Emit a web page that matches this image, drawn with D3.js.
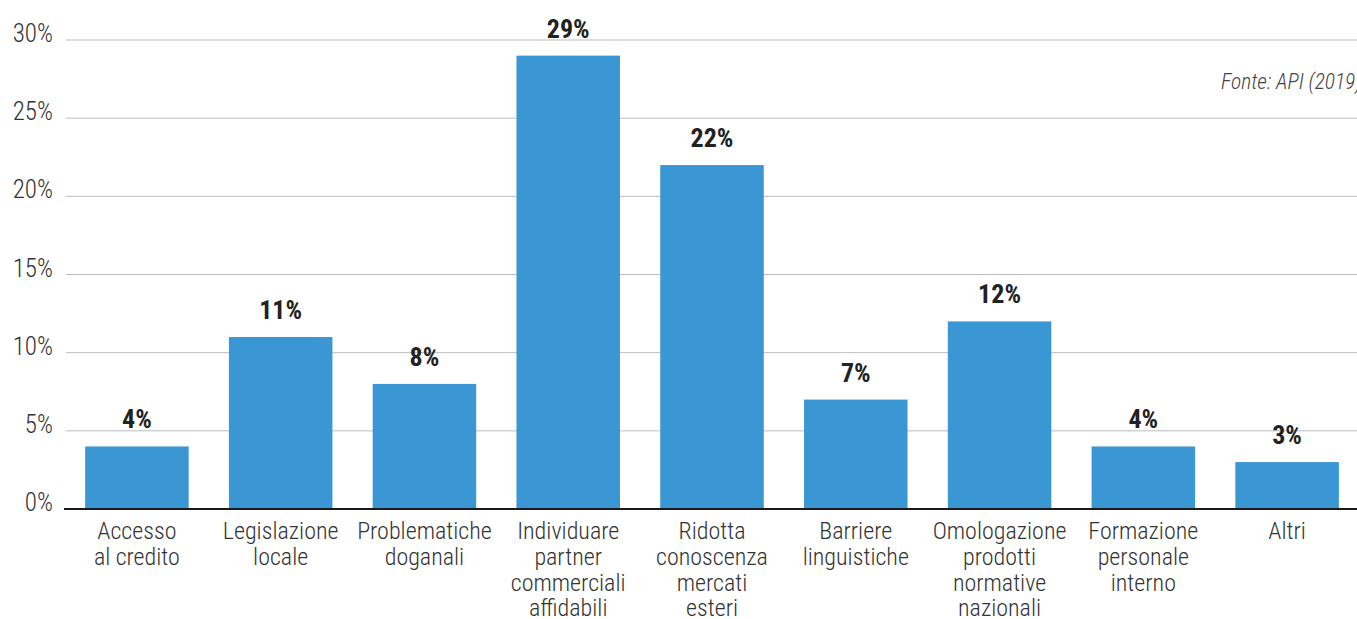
<!DOCTYPE html>
<html><head><meta charset="utf-8">
<script src="https://cdn.jsdelivr.net/npm/d3@7"></script>
<style>
html,body{margin:0;padding:0;background:#fff;}
svg{display:block;font-family:"Roboto Condensed",Roboto,"Noto Sans",sans-serif;}
</style></head>
<body>
<svg id="chart" width="1357" height="619"></svg>
<script>
const categories = [
  ["Accesso","al credito"],
  ["Legislazione","locale"],
  ["Problematiche","doganali"],
  ["Individuare","partner","commerciali","affidabili"],
  ["Ridotta","conoscenza","mercati","esteri"],
  ["Barriere","linguistiche"],
  ["Omologazione","prodotti","normative","nazionali"],
  ["Formazione","personale","interno"],
  ["Altri"]
];
const values = [4, 11, 8, 29, 22, 7, 12, 4, 3];
const yTicks = [0, 5, 10, 15, 20, 25, 30];
const sourceText = "Fonte: API (2019)";

const svg = d3.select("#chart");
const keys = categories.map((c, i) => i);
const x = d3.scaleBand().domain(keys).range([65, 1359]).paddingInner(0.28).paddingOuter(0.14);
const y = d3.scaleLinear().domain([0, 30]).range([509, 40]);

// gridlines
svg.append("g").selectAll("line").data(yTicks.filter(t => t > 0)).join("line")
  .attr("x1", 66).attr("x2", 1357)
  .attr("y1", d => y(d)).attr("y2", d => y(d))
  .attr("stroke", "#bdbdbd").attr("stroke-width", 1);

// y tick labels
svg.append("g").selectAll("text").data(yTicks).join("text")
  .attr("x", 53).attr("y", d => y(d) + 2)
  .attr("text-anchor", "end")
  .attr("font-size", 25).attr("font-weight", 300).attr("fill", "#333")
  .text(d => d + "%");

// bars
svg.append("g").selectAll("rect").data(values).join("rect")
  .attr("x", (d, i) => x(i)).attr("width", x.bandwidth())
  .attr("y", d => y(d)).attr("height", d => y(0) - y(d))
  .attr("fill", "#3b97d3");

// baseline axis
svg.append("line").attr("x1", 64).attr("x2", 1357)
  .attr("y1", y(0)).attr("y2", y(0))
  .attr("stroke", "#1a1a1a").attr("stroke-width", 2);

// value labels
svg.append("g").selectAll("text").data(values).join("text")
  .attr("x", (d, i) => x(i) + x.bandwidth() / 2)
  .attr("y", d => y(d) - 18)
  .attr("text-anchor", "middle")
  .attr("font-size", 26).attr("font-weight", 700).attr("fill", "#222")
  .text(d => d + "%");

// category labels
const cat = svg.append("g").selectAll("text").data(categories).join("text")
  .attr("text-anchor", "middle")
  .attr("font-size", 24).attr("font-weight", 300).attr("fill", "#333");
cat.each(function(lines, i) {
  const t = d3.select(this);
  lines.forEach((ln, j) => {
    t.append("tspan").attr("x", x(i) + x.bandwidth() / 2).attr("y", 539 + j * 25.8).text(ln);
  });
});

// source
svg.append("text").attr("x", 1221).attr("y", 89)
  .attr("font-size", 21.5).attr("font-style", "italic").attr("font-weight", 300).attr("fill", "#444")
  .text(sourceText);
</script>
</body></html>
